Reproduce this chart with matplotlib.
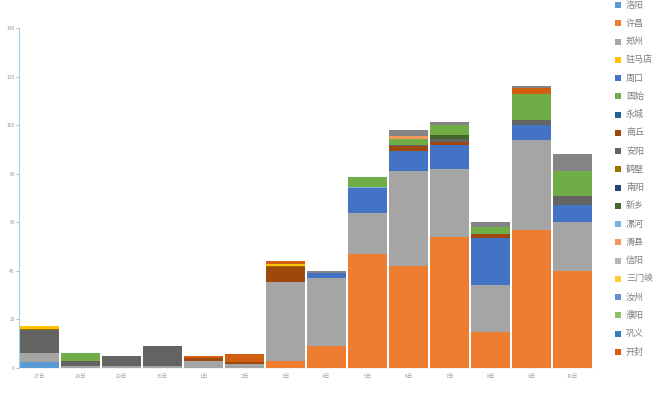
import numpy as np
import matplotlib.pyplot as plt
import matplotlib
from matplotlib.patches import Rectangle

matplotlib.rcParams['font.family'] = ['Noto Sans CJK SC', 'DejaVu Sans']
matplotlib.rcParams['axes.unicode_minus'] = False

# ============================================================
# 数据
# ============================================================
DATES = ['27日', '28日', '29日', '30日', '1日', '2日', '3日',
         '4日', '5日', '6日', '7日', '8日', '9日', '10日']

luoyang   = [2.5, 0, 0, 0, 0, 0, 0, 0, 0, 0, 0, 0, 0, 0]
xuchang   = [0, 0, 0, 0, 0, 0, 3, 9, 47, 42, 54, 15, 57, 40]
zhengzhou = [3.5, 1, 1, 1, 2.8, 1.7, 32.5, 28, 17, 39, 28, 19, 37, 20]
zhoukou   = [0, 0, 0, 0, 0, 0, 0, 2, 10, 8.2, 10, 19.5, 6, 7]
luohe     = [0, 0, 0, 0, 0, 0, 0, 0, 0.6, 0, 0, 0, 0, 0]
shangqiu  = [0, 0, 0, 0, 1.4, 0.8, 6, 0, 0, 2.1, 1, 1.5, 0, 0]
anyang    = [9.5, 2, 4, 8, 0, 0, 0, 0, 0, 0.7, 1.5, 0, 2, 4]
hebi      = [0.4, 0, 0, 0, 0, 0, 0.7, 0, 0, 0, 0, 0, 0, 0]
zhumadian = [1.2, 0, 0, 0, 0, 0, 0.8, 0, 0, 0, 0, 0, 0, 0]
xinxiang  = [0, 0, 0, 0, 0, 0, 0, 0, 0, 0, 1.6, 0, 0, 0]
gushi     = [0, 3, 0, 0, 0, 0, 0, 0, 4.2, 2.5, 4, 3, 11, 10]
huaxian   = [0, 0, 0, 0, 0, 0, 0, 0, 0, 1, 0, 0, 0, 0]
kaifeng   = [0, 0, 0, 0, 0.6, 3.3, 1, 0, 0, 0, 0, 0, 2.5, 0]
qita      = [0, 0, 0, 0, 0, 0, 0, 1, 0, 2.3, 1, 2, 0.5, 7]
zero      = [0] * len(DATES)

# 堆叠顺序（自下而上）
STACK = [
    ('洛阳',   luoyang,   '#5B9BD5'),
    ('许昌',   xuchang,   '#ED7D31'),
    ('郑州',   zhengzhou, '#A5A5A5'),
    ('周口',   zhoukou,   '#4472C4'),
    ('漯河',   luohe,     '#7CAFDD'),
    ('商丘',   shangqiu,  '#9E480E'),
    ('安阳',   anyang,    '#636363'),
    ('鹤壁',   hebi,      '#997300'),
    ('驻马店', zhumadian, '#FFC000'),
    ('新乡',   xinxiang,  '#43682B'),
    ('固始',   gushi,     '#70AD47'),
    ('滑县',   huaxian,   '#F1975A'),
    ('开封',   kaifeng,   '#D26012'),
    ('_其他',  qita,      '#848484'),
]

# 图例顺序
LEGEND = [
    ('洛阳', '#5B9BD5'), ('许昌', '#ED7D31'), ('郑州', '#A5A5A5'),
    ('驻马店', '#FFC000'), ('周口', '#4472C4'), ('固始', '#70AD47'),
    ('永城', '#255E91'), ('商丘', '#9E480E'), ('安阳', '#636363'),
    ('鹤壁', '#997300'), ('南阳', '#264478'), ('新乡', '#43682B'),
    ('漯河', '#7CAFDD'), ('滑县', '#F1975A'), ('信阳', '#B7B7B7'),
    ('三门峡', '#FFCD33'), ('汝州', '#698ED0'), ('濮阳', '#8CC168'),
    ('巩义', '#327DC2'), ('开封', '#D26012'),
]

# ============================================================
# 绘图
# ============================================================
W, H = 660, 399
fig = plt.figure(figsize=(6.6, 3.99), dpi=100)
ax = fig.add_axes([19 / W, 1 - 368 / H, (593 - 19) / W, (368 - 28) / H])

x = np.arange(len(DATES))
bottom = np.zeros(len(DATES))
for name, vals, color in STACK:
    vals = np.array(vals, dtype=float)
    ax.bar(x, vals, bottom=bottom, width=0.95, color=color, linewidth=0)
    bottom += vals

ax.set_xlim(-0.5, len(DATES) - 0.5)
ax.set_ylim(0, 140)
ax.set_yticks(np.arange(0, 141, 20))
ax.set_xticks(x)
ax.set_xticklabels(DATES)
ax.tick_params(axis='y', labelsize=3.5, colors='#9a9a9a', length=2, width=0.5, pad=1)
ax.tick_params(axis='x', labelsize=3.8, colors='#9a9a9a', length=0, pad=4)

for s in ['top', 'right']:
    ax.spines[s].set_visible(False)
ax.spines['left'].set_color('#A9CDE0')
ax.spines['left'].set_linewidth(0.8)
ax.spines['bottom'].set_color('#eeeeee')
ax.spines['bottom'].set_linewidth(0.5)

# 图例（右侧，手动排列）
for i, (name, color) in enumerate(LEGEND):
    yc = 5 + i * 18.26
    fig.patches.append(Rectangle((615 / W, 1 - (yc + 3) / H), 6 / W, 6 / H,
                                 transform=fig.transFigure, facecolor=color,
                                 edgecolor='none'))
    fig.text(626 / W, 1 - yc / H, name, fontsize=6.5, color='#7f7f7f',
             va='center', ha='left')

fig.savefig('out.png', dpi=100)
plt.close(fig)
